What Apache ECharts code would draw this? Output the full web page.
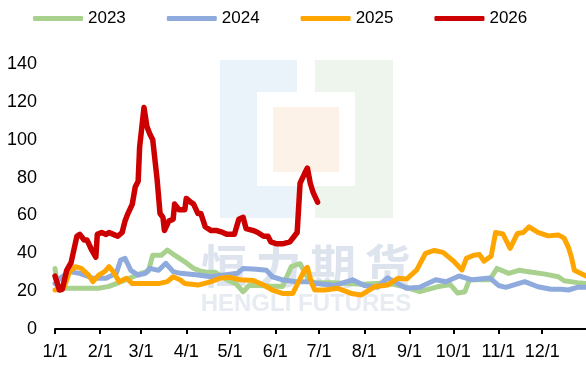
<!DOCTYPE html>
<html>
<head>
<meta charset="utf-8">
<script src="https://cdn.jsdelivr.net/npm/echarts@6/dist/echarts.min.js"></script>
<style>
  html, body { margin: 0; padding: 0; background: #fff; }
  #chart { width: 586px; height: 365px; }
</style>
</head>
<body>
<div id="chart"></div>
<script>
// Days per month (non-leap year) and the axis labels shown at each month start
const monthLengths = [31, 28, 31, 30, 31, 30, 31, 31, 30, 31, 30, 31];
const seriesNames = ['2023', '2024', '2025', '2026'];
const yTicks = [0, 20, 40, 60, 80, 100, 120, 140];

// Each series: [day of year (0 = 1/1), value]
const s2023 = [[0,32],[2,21.5],[10,21.5],[20,21.5],[30,21.5],[37,22.5],[42,24],[51,26.8],[59,29.4],[64,30.5],[67,39],[73,39],[77,41.7],[82,39],[89,35.5],[95,32],[100,30.5],[104,30],[110,30],[118,25.9],[124,24],[129,19.7],[133,23],[140,23],[147,22.7],[156,22.5],[162,33],[168,34.5],[174,26],[178,24.5],[190,24.5],[201,24],[210,23.6],[221,24],[232,23.6],[241,22],[250,19.7],[262,22.3],[271,23.5],[276,19],[281,19.7],[284,26],[291,26],[298,26],[303,32],[311,29.4],[318,31],[327,30],[336,29],[345,27.6],[349,25.5],[358,24.5],[364,24]];
const s2024 = [[0,24],[4,27],[10,30.3],[17,29.4],[26,26.8],[35,26.8],[42,29.4],[45,36.4],[48,37.3],[52,31],[57,28.5],[62,29.4],[65,32],[71,31],[76,34.7],[81,30.3],[86,29.4],[98,28.5],[107,27.6],[116,28.5],[125,29.4],[129,32],[138,31.6],[145,31],[149,27.6],[156,26],[165,25],[174,25],[179,24],[192,23],[204,26],[212,23],[221,22],[228,27],[235,24],[241,21.5],[250,22],[261,26],[268,25],[277,28],[286,26],[298,27],[304,23],[309,22],[322,25],[331,22.3],[340,21],[347,21],[352,20.6],[358,22],[364,22]];
const s2025 = [[0,20.6],[6,21.5],[10,30.3],[14,32.9],[18,32],[23,28.5],[26,25],[30,28.5],[34,30.3],[37,32.9],[40,30.3],[44,25],[49,26.8],[53,24],[62,24],[71,24],[77,25],[81,27.6],[86,25.9],[89,24],[98,23.2],[107,25],[113,26.8],[120,27.3],[127,26],[136,25.6],[143,23.2],[149,20.6],[156,18.8],[163,18.8],[167,25],[171,31],[173,32.6],[176,24],[178,20.6],[185,20.6],[194,21.5],[203,18.8],[210,18],[219,22.3],[228,23.2],[235,26.8],[241,26.4],[248,31.2],[254,40],[260,41.5],[266,40.5],[273,36],[279,31.2],[282,37.3],[287,39],[291,39.3],[294,35.8],[299,38.5],[302,51],[307,50.2],[312,42.6],[317,50.5],[321,51],[325,54],[331,51],[338,49.2],[345,49.7],[349,48],[352,43],[354,38],[356,31],[364,28]];
const s2026 = [[0,28],[3,20.6],[5,21],[8,31],[11,35],[15,49],[17,50],[20,47],[22,47],[25,42],[28,38],[29,50],[32,51],[35,50],[37,51],[40,50],[43,49],[46,51],[48,57],[50,61],[53,66],[55,75],[57,78],[58,96],[61,117],[62,116],[63,107],[65,103],[67,100],[70,79],[72,61],[74,59],[75,52],[78,57],[81,58],[82,66],[85,63],[89,63],[90,69],[93,67],[95,66],[98,61],[100,61],[103,54],[107,52],[111,52],[115,51],[118,50],[123,50],[126,58],[129,59],[131,53],[136,52],[139,51],[143,49],[146,49],[148,46],[152,45],[156,45],[161,46],[164,49],[166,51],[168,77],[171,82],[173,85],[175,77],[177,72],[180,67]];

const seriesData = [s2023, s2024, s2025, s2026];
const colors = ['#A9D18E', '#8FAADC', '#FFA500', '#CC0000'];

// Daily categories and the month-start positions
const days = [];
const monthStarts = new Set();
monthLengths.forEach((len, m) => {
  monthStarts.add(days.length);
  for (let d = 1; d <= len; d++) days.push((m + 1) + '/' + d);
});
const isMonthStart = (idx) => monthStarts.has(idx);

const font = '"Liberation Sans", Arial, sans-serif';

const chart = echarts.init(document.getElementById('chart'), null, { renderer: 'canvas' });

// Company logo watermark behind the plot
const watermark = [
  { type: 'rect', shape: { x: 220, y: 60, width: 77, height: 158 }, style: { fill: '#EAF2FA' }, z: -10, silent: true },
  { type: 'rect', shape: { x: 315, y: 60, width: 78, height: 158 }, style: { fill: '#EEF5EC' }, z: -10, silent: true },
  { type: 'rect', shape: { x: 257, y: 92, width: 98, height: 94 }, style: { fill: '#FFFFFF' }, z: -9, silent: true },
  { type: 'rect', shape: { x: 273, y: 107, width: 66, height: 65 }, style: { fill: '#FCF2E7' }, z: -8, silent: true }
];
['恒', '力', '期', '货'].forEach((ch, i) => {
  watermark.push({
    type: 'text', x: 224 + i * 54.5, y: 266, z: -8, silent: true,
    style: { text: ch, fill: '#DDE4EE', font: 'bold 46px "Noto Sans CJK SC"', align: 'center', verticalAlign: 'middle' }
  });
});
watermark.push({
  type: 'text', x: 306, y: 304, z: -8, silent: true,
  style: { text: 'HENGLI FUTURES', fill: '#E7EBF2', font: 'bold 24px "Liberation Sans"', align: 'center', verticalAlign: 'middle' }
});

chart.setOption({
  animation: false,
  backgroundColor: '#fff',
  graphic: watermark,
  legend: {
    top: 5,
    left: 28,
    itemWidth: 50,
    itemHeight: 5,
    itemGap: 41,
    itemTextGap: 4,
    icon: 'roundRect',
    textStyle: { fontFamily: font, fontSize: 17, color: '#000' },
    data: seriesNames
  },
  grid: { left: 55, right: -9, top: 64, bottom: 36, containLabel: false },
  xAxis: {
    type: 'category',
    data: days,
    boundaryGap: false,
    axisLine: { lineStyle: { color: '#000', width: 2 } },
    axisTick: { interval: isMonthStart, length: 5, lineStyle: { color: '#000', width: 2 } },
    axisLabel: { interval: isMonthStart, margin: 14, fontFamily: font, fontSize: 18, color: '#000' },
    splitLine: { show: false }
  },
  yAxis: {
    type: 'value',
    min: yTicks[0],
    max: yTicks[yTicks.length - 1],
    interval: 20,
    axisLine: { show: false },
    axisTick: { show: false },
    splitLine: { show: false },
    axisLabel: { margin: 18, fontFamily: font, fontSize: 18, color: '#000' }
  },
  series: seriesNames.map((name, i) => ({
    name,
    type: 'line',
    data: seriesData[i],
    showSymbol: false,
    symbol: 'none',
    color: colors[i],
    lineStyle: { width: i === 3 ? 5.5 : 5, color: colors[i], join: 'round', cap: 'round' },
    z: 2 + i
  }))
});
</script>
</body>
</html>
